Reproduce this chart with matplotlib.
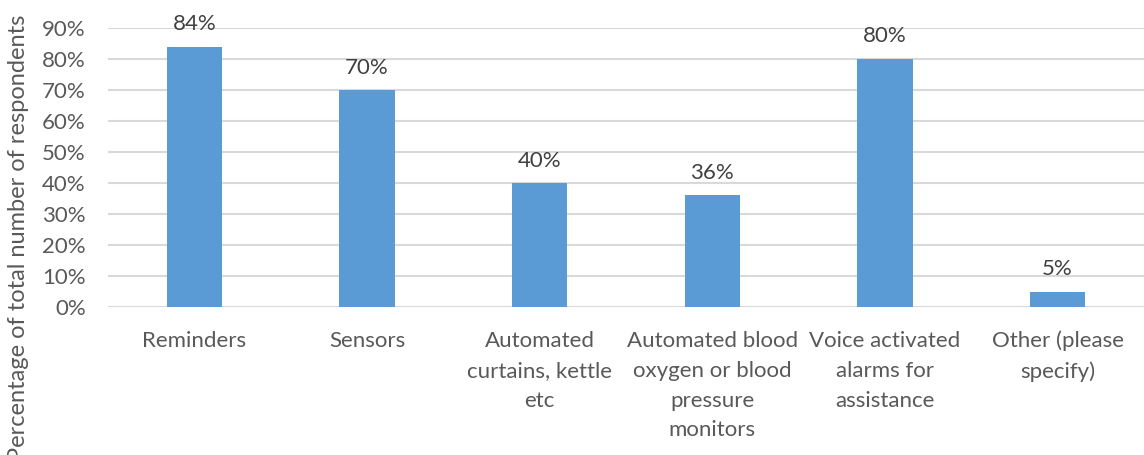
import matplotlib.pyplot as plt
import numpy as np

categories = ["Reminders", "Sensors", "Automated\ncurtains, kettle\netc",
              "Automated blood\noxygen or blood\npressure\nmonitors",
              "Voice activated\nalarms for\nassistance", "Other (please\nspecify)"]
values = [0.84, 0.70, 0.40, 0.36, 0.80, 0.05]
labels = ["84%", "70%", "40%", "36%", "80%", "5%"]
yticks = [0, 0.1, 0.2, 0.3, 0.4, 0.5, 0.6, 0.7, 0.8, 0.9]

plt.rcParams['font.family'] = ['Lato', 'DejaVu Sans']
txt = '#595959'

fig = plt.figure(figsize=(11.44, 4.55), dpi=100)
ax = fig.add_axes([0.0944, 0.325, 0.9056, 0.6135])

x = np.arange(len(categories))
ax.bar(x, values, width=0.32, color='#5b9bd5', zorder=3)
for xi, v, l in zip(x, values, labels):
    ax.annotate(l, (xi, v), xytext=(0, 9), textcoords='offset points',
                ha='center', va='bottom', fontsize=16, color='#404040')

ax.set_xlim(-0.5, len(categories) - 0.5)
ax.set_ylim(0, 0.9)
ax.set_yticks(yticks)
ax.set_yticklabels([f"{int(round(t*100))}%" for t in yticks], fontsize=16, color=txt)
ax.set_xticks(x)
ax.set_xticklabels(categories, fontsize=16, color=txt, linespacing=1.62, va='top')
ax.tick_params(length=0, axis='x', pad=17)
ax.tick_params(length=0, axis='y', pad=16)
ax.grid(axis='y', color='#d9d9d9', linewidth=1.5, zorder=0)
for s in ax.spines.values():
    s.set_visible(False)

fig.text(0.016, 1 - 15/455, "Percentage of total number of respondents", rotation=90,
         ha='center', va='top', fontsize=17, color=txt)

fig.savefig("out.png")
